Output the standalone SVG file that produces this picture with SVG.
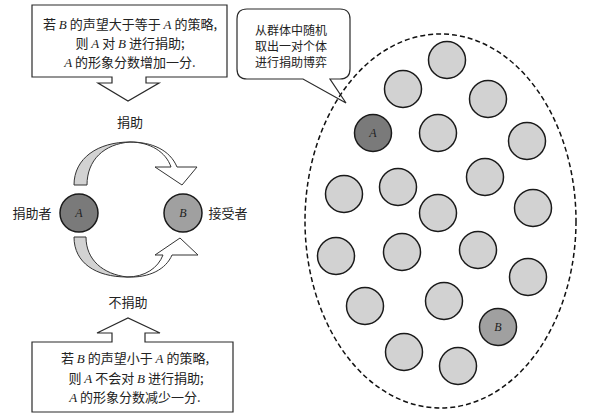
<svg xmlns="http://www.w3.org/2000/svg" width="592" height="419" viewBox="0 0 592 419">
<style>
.box{fill:#fff;stroke:#2a2a2a;stroke-width:1.2}
.t{font-family:"Noto Sans CJK SC","Noto Sans CJK JP",sans-serif;font-size:13px;fill:#222;text-anchor:middle}
.ct{font-family:"Noto Sans CJK SC","Noto Sans CJK JP",sans-serif;font-size:12px;fill:#222;text-anchor:middle}
.i{font-family:"Liberation Serif",serif;font-style:italic}
.p{fill:#d2d2d2;stroke:#1a1a1a;stroke-width:1.5}
.pa{fill:#7a7a7a;stroke:#1a1a1a;stroke-width:1.5}
.pb{fill:#a0a0a0;stroke:#1a1a1a;stroke-width:1.5}
.lt{font-family:"Liberation Serif",serif;font-style:italic;font-size:12px;fill:#222;text-anchor:middle}
.arc{stroke:#333;stroke-width:1}
</style>
<rect width="592" height="419" fill="#fff"/>
<g id="box-top">
<path class="box" d="M32,5 H227 V77 H146 V83 H159 L128,101 L98,83 H112 V77 H32 Z"/>
<text class="t" x="130" y="29">若 <tspan class="i">B</tspan> 的声望大于等于 <tspan class="i">A</tspan> 的策略,</text>
<text class="t" x="130" y="48">则 <tspan class="i">A</tspan> 对 <tspan class="i">B</tspan> 进行捐助;</text>
<text class="t" x="130" y="67"><tspan class="i">A</tspan> 的形象分数增加一分.</text>
</g>
<g id="box-bottom">
<path class="box" d="M32,342 H112 V333 H97 L128,318 L160,333 H145 V342 H233 V412 H32 Z"/>
<text class="t" x="135" y="363">若 <tspan class="i">B</tspan> 的声望小于 <tspan class="i">A</tspan> 的策略,</text>
<text class="t" x="136" y="383">则 <tspan class="i">A</tspan> 不会对 <tspan class="i">B</tspan> 进行捐助;</text>
<text class="t" x="135" y="402"><tspan class="i">A</tspan> 的形象分数减少一分.</text>
</g>
<g id="label-donate"><text class="t" x="130" y="127">捐助</text></g>
<g id="label-nodonate"><text class="t" x="128" y="307">不捐助</text></g>
<g id="node-A">
<circle class="pa" cx="79" cy="213" r="19"/>
<text class="lt" x="79" y="217">A</text>
<text class="t" x="32" y="218">捐助者</text>
</g>
<g id="node-B">
<circle class="pb" cx="183" cy="213" r="19"/>
<text class="lt" x="183" y="217">B</text>
<text class="t" x="228" y="218">接受者</text>
</g>
<g id="connectors">
<path class="arc" fill="#d2d2d2" d="M74,185 C74,158 98,142 130,142 C104,144 87,160 87,185 Z"/>
<path class="arc" fill="#fff" d="M130,142 C150,142 166,152 171,167 L155,167 L182,185 L197,167 L177,167 C170,150 152,142 130,142 Z"/>
<path class="arc" fill="#d2d2d2" d="M74,237 C74,263 96,277 127,277 C103,274 86,260 86,237 Z"/>
<path class="arc" fill="#fff" d="M127,277 C145,277 158,268 163,255 L155,255 L180,238 L198,255 L172,255 C166,269 150,278 127,277 Z"/>
</g>
<g id="callout">
<path class="box" d="M247,9 H340 Q350,9 350,19 V69 Q350,79 340,79 H330 L346,103 L303,79 H247 Q237,79 237,69 V19 Q237,9 247,9 Z"/>
<text class="ct" x="291" y="35">从群体中随机</text>
<text class="ct" x="291" y="51">取出一对个体</text>
<text class="ct" x="291" y="67">进行捐助博弈</text>
</g>
<g id="population">
<ellipse cx="440.5" cy="221" rx="135.5" ry="187" fill="none" stroke="#111" stroke-width="1.5" stroke-dasharray="5,3"/>
<circle class="p" cx="447" cy="60" r="18.5"/>
<circle class="p" cx="403" cy="89" r="18.5"/>
<circle class="p" cx="488" cy="99" r="18.5"/>
<circle class="p" cx="438" cy="133" r="18.5"/>
<circle class="p" cx="527" cy="141" r="18.5"/>
<circle class="p" cx="485" cy="177" r="18.5"/>
<circle class="p" cx="344" cy="194" r="18.5"/>
<circle class="p" cx="398" cy="187" r="18.5"/>
<circle class="p" cx="438" cy="213" r="18.5"/>
<circle class="p" cx="533" cy="208" r="18.5"/>
<circle class="p" cx="336" cy="256" r="18.5"/>
<circle class="p" cx="402" cy="252" r="18.5"/>
<circle class="p" cx="478" cy="250" r="18.5"/>
<circle class="p" cx="528" cy="277" r="18.5"/>
<circle class="p" cx="365" cy="306" r="18.5"/>
<circle class="p" cx="444" cy="301" r="18.5"/>
<circle class="p" cx="404" cy="352" r="18.5"/>
<circle class="p" cx="458" cy="366" r="18.5"/>
</g>
<g id="pop-A">
<circle class="pa" cx="373" cy="133" r="18.5"/>
<text class="lt" x="373" y="137">A</text>
</g>
<g id="pop-B">
<circle class="pb" cx="498" cy="327" r="18.5"/>
<text class="lt" x="498" y="331">B</text>
</g>
</svg>
